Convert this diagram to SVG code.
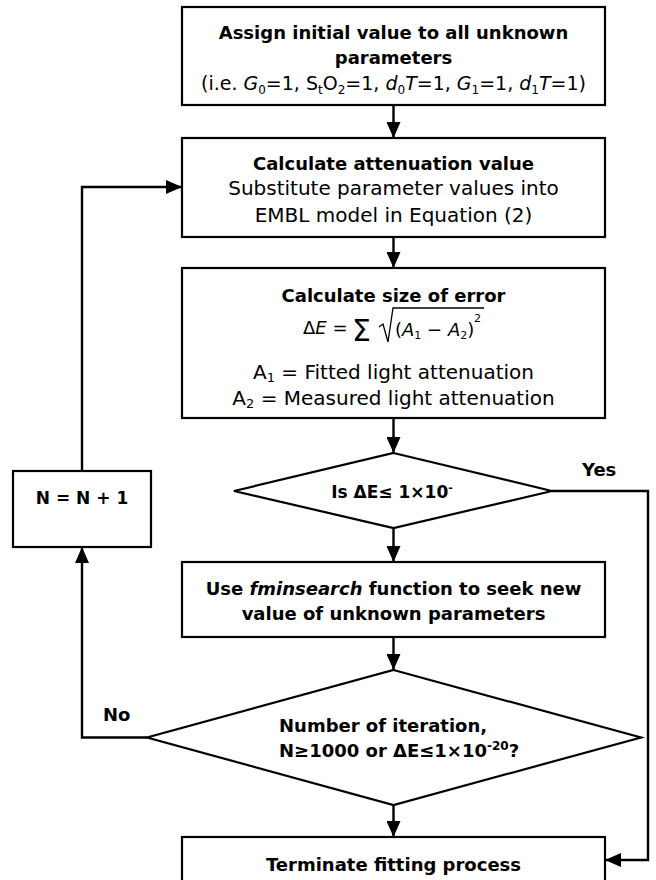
<svg xmlns="http://www.w3.org/2000/svg" width="656" height="880" viewBox="0 0 656 880">
<style>
.box{fill:#fff;stroke:#000;stroke-width:2.2}
.b{font-family:"DejaVu Sans",sans-serif;font-weight:bold;font-size:18px;fill:#000}
.r{font-family:"DejaVu Sans",sans-serif;font-size:20px;fill:#000}
.c{text-anchor:middle}
.i{font-style:italic}
.con{fill:none;stroke:#000;stroke-width:2.4}
</style>
<defs>
<marker id="ah" viewBox="0 0 16 14" refX="16" refY="7" markerWidth="16" markerHeight="14" orient="auto" markerUnits="userSpaceOnUse"><path d="M0,0 L16,7 L0,14 z" fill="#000"/></marker>
</defs>
<rect width="656" height="880" fill="#fff"/>
<g id="connectors">
<line class="con" x1="393.5" y1="105" x2="393.5" y2="138" marker-end="url(#ah)"/>
<line class="con" x1="393.5" y1="237" x2="393.5" y2="268" marker-end="url(#ah)"/>
<line class="con" x1="393.5" y1="418" x2="393.5" y2="453" marker-end="url(#ah)"/>
<line class="con" x1="393.5" y1="528" x2="393.5" y2="562" marker-end="url(#ah)"/>
<line class="con" x1="393.5" y1="637" x2="393.5" y2="670" marker-end="url(#ah)"/>
<line class="con" x1="393.5" y1="805" x2="393.5" y2="837" marker-end="url(#ah)"/>
<polyline class="con" points="552,491 648,491 648,860 605,860" marker-end="url(#ah)"/>
<polyline class="con" points="147,737.5 82,737.5 82,547" marker-end="url(#ah)"/>
<polyline class="con" points="82,471 82,187 182,187" marker-end="url(#ah)"/>
<text class="b" x="582" y="476">Yes</text>
<text class="b" x="103" y="721">No</text>
</g>
<g id="init">
<rect class="box" x="182" y="7" width="423" height="98"/>
<text class="b c" x="393.5" y="38.5">Assign initial value to all unknown</text>
<text class="b c" x="393.5" y="63.5">parameters</text>
<text class="r c" x="393.5" y="90" style="font-size:19px">(i.e. <tspan class="i">G</tspan><tspan font-size="12" dy="4">0</tspan><tspan dy="-4">=1, S</tspan><tspan font-size="12" dy="4">t</tspan><tspan dy="-4">O</tspan><tspan font-size="12" dy="4">2</tspan><tspan dy="-4">=1, </tspan><tspan class="i">d</tspan><tspan font-size="12" dy="4">0</tspan><tspan dy="-4" class="i">T</tspan><tspan>=1, </tspan><tspan class="i">G</tspan><tspan font-size="12" dy="4">1</tspan><tspan dy="-4">=1, </tspan><tspan class="i">d</tspan><tspan font-size="12" dy="4">1</tspan><tspan dy="-4" class="i">T</tspan><tspan>=1)</tspan></text>
</g>
<g id="attenuation">
<rect class="box" x="182" y="138" width="423" height="99"/>
<text class="b c" x="393.5" y="169.5">Calculate attenuation value</text>
<text class="r c" x="393.5" y="195">Substitute parameter values into</text>
<text class="r c" x="393.5" y="222">EMBL model in Equation (2)</text>
</g>
<g id="error">
<rect class="box" x="182" y="268" width="423" height="150"/>
<text class="b c" x="393.5" y="301.5">Calculate size of error</text>
<text class="r" x="303" y="334" style="font-size:18px">Δ<tspan class="i">E</tspan> =</text>
<text class="r" x="352" y="341" style="font-size:30px">Σ</text>
<path d="M379,327 L383,324 L388,342 L393,308 L484,308" fill="none" stroke="#000" stroke-width="1.3"/>
<text class="r" x="395" y="336" style="font-size:18px">(<tspan class="i">A</tspan><tspan font-size="11" dy="3">1</tspan><tspan dy="-3"> − </tspan><tspan class="i">A</tspan><tspan font-size="11" dy="3">2</tspan><tspan dy="-3">)</tspan></text>
<text class="r" x="474" y="322" style="font-size:11px">2</text>
<text class="r c" x="393.5" y="379">A<tspan font-size="13" dy="3">1</tspan><tspan dy="-3"> = Fitted light attenuation</tspan></text>
<text class="r c" x="393.5" y="405">A<tspan font-size="13" dy="3">2</tspan><tspan dy="-3"> = Measured light attenuation</tspan></text>
</g>
<g id="check1">
<polygon class="box" points="393.5,453 552,491 393.5,528 234,491"/>
<text class="b c" x="392" y="497.5" style="font-size:17px">Is ΔE≤ 1×10<tspan font-size="11" dy="-7">-</tspan></text>
</g>
<g id="fminsearch">
<rect class="box" x="182" y="562" width="423" height="75"/>
<text class="b c" x="393.5" y="594.5">Use <tspan class="i">fminsearch</tspan> function to seek new</text>
<text class="b c" x="393.5" y="619.5">value of unknown parameters</text>
</g>
<g id="check2">
<polygon class="box" points="393.5,670 641,737.5 393.5,805 147,737.5"/>
<text class="b" x="279" y="731.5">Number of iteration,</text>
<text class="b" x="279" y="756.5">N≥1000 or ΔE≤1×10<tspan font-size="12" dy="-7">-20</tspan><tspan dy="7">?</tspan></text>
</g>
<g id="increment">
<rect class="box" x="13" y="471" width="138" height="76"/>
<text class="b c" x="82" y="503.5" style="font-size:17px">N = N + 1</text>
</g>
<g id="terminate">
<rect class="box" x="182" y="837" width="423" height="60"/>
<text class="b c" x="393.5" y="871">Terminate fitting process</text>
</g>
</svg>
